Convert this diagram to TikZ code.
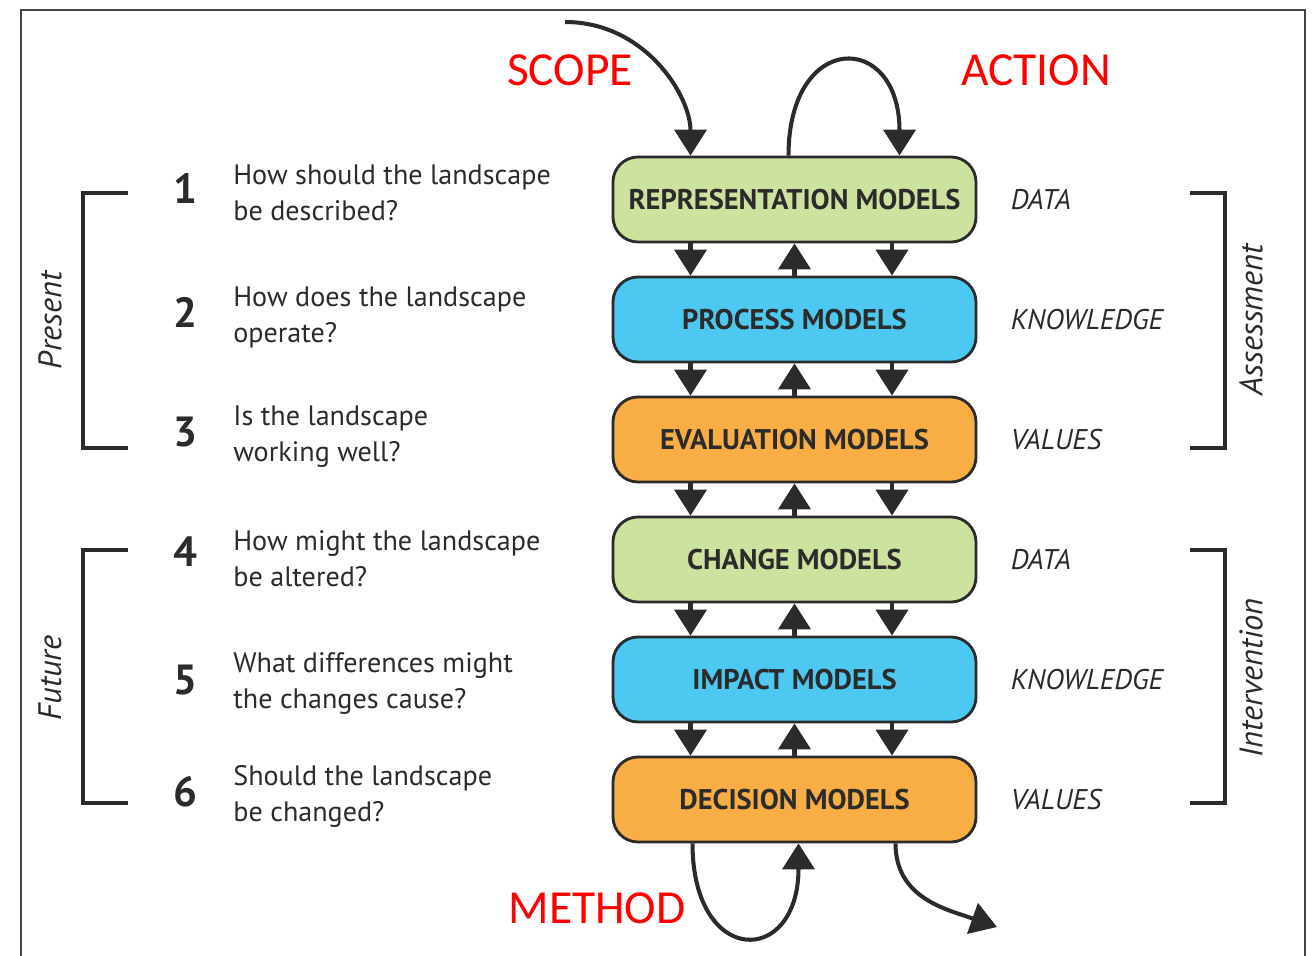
\documentclass[tikz,border=0pt]{standalone}
\usepackage{fontspec}
\setmainfont{PT Sans}
\newfontfamily\notefont{Carlito}
\usepackage{tikz}
\usetikzlibrary{arrows.meta, positioning, calc}

\definecolor{reprgreen}{HTML}{CDE29F}
\definecolor{procblue}{HTML}{4DC8F0}
\definecolor{evalorange}{HTML}{F9AE45}
\definecolor{inkgray}{HTML}{2B2B2B}
\definecolor{framegray}{HTML}{444444}

\begin{document}
\begin{tikzpicture}[
  model/.style={
    draw=inkgray, line width=1.6pt, rounded corners=0.5cm,
    minimum width=7.26cm, minimum height=1.7cm,
    font=\fontsize{16.2}{18}\selectfont\bfseries, text=inkgray
  },
  question/.style={
    anchor=west, align=left, inner sep=0pt, text=inkgray,
    font=\fontsize{16}{20.5}\selectfont
  },
  number/.style={font=\fontsize{24}{24}\selectfont\bfseries, text=inkgray},
  level/.style={inner sep=0pt, font=\fontsize{16.2}{18}\selectfont\itshape, text=inkgray},
  phase/.style={rotate=90, font=\fontsize{18.5}{20}\selectfont\itshape, text=inkgray},
  note/.style={font=\notefont\fontsize{27}{27}\selectfont, text=red},
  flow/.style={line width=2.3pt, draw=inkgray, -{Triangle[length=0.52cm, width=0.64cm]}},
  bracket/.style={line width=2.3pt, draw=inkgray}
]
\useasboundingbox (0,0) rectangle (26.3,-19.12);

% Frame, open at the bottom
\draw[framegray, line width=1.2pt] (0.42,-19.2) -- (0.42,-0.2) -- (26.1,-0.2) -- (26.1,-19.2);

% Model stack
\node[model, fill=reprgreen] (repr) at (15.89,-3.99) {REPRESENTATION MODELS};
\node[model, fill=procblue] (proc) at (15.89,-6.39) {PROCESS MODELS};
\node[model, fill=evalorange] (eval) at (15.89,-8.79) {EVALUATION MODELS};
\node[model, fill=reprgreen] (change) at (15.89,-11.19) {CHANGE MODELS};
\node[model, fill=procblue] (impact) at (15.89,-13.59) {IMPACT MODELS};
\node[model, fill=evalorange] (decision) at (15.89,-15.99) {DECISION MODELS};

% Down and up links between neighbouring models
\draw[flow] ($(repr.south)+(-2.08,0)$) -- ($(proc.north)+(-2.08,0)$);
\draw[flow] ($(proc.north)+(0,0)$) -- ($(repr.south)+(0,0)$);
\draw[flow] ($(repr.south)+(1.95,0)$) -- ($(proc.north)+(1.95,0)$);

\draw[flow] ($(proc.south)+(-2.08,0)$) -- ($(eval.north)+(-2.08,0)$);
\draw[flow] ($(eval.north)+(0,0)$) -- ($(proc.south)+(0,0)$);
\draw[flow] ($(proc.south)+(1.95,0)$) -- ($(eval.north)+(1.95,0)$);

\draw[flow] ($(eval.south)+(-2.08,0)$) -- ($(change.north)+(-2.08,0)$);
\draw[flow] ($(change.north)+(0,0)$) -- ($(eval.south)+(0,0)$);
\draw[flow] ($(eval.south)+(1.95,0)$) -- ($(change.north)+(1.95,0)$);

\draw[flow] ($(change.south)+(-2.08,0)$) -- ($(impact.north)+(-2.08,0)$);
\draw[flow] ($(impact.north)+(0,0)$) -- ($(change.south)+(0,0)$);
\draw[flow] ($(change.south)+(1.95,0)$) -- ($(impact.north)+(1.95,0)$);

\draw[flow] ($(impact.south)+(-2.08,0)$) -- ($(decision.north)+(-2.08,0)$);
\draw[flow] ($(decision.north)+(0,0)$) -- ($(impact.south)+(0,0)$);
\draw[flow] ($(impact.south)+(1.95,0)$) -- ($(decision.north)+(1.95,0)$);

% Scope, action, method and output
\coordinate (scopestart) at (11.3,-0.44);
\draw[flow] (scopestart) .. controls +(1.6,0) and +(0,1.2) .. ($(repr.north)+(-2.08,0)$);
\draw[flow] ($(repr.north)+(-0.12,0)$) .. controls +(0,2.5) and +(0,2.5) .. ($(repr.north)+(2.1,0)$);
\draw[flow] ($(decision.south)+(-2.04,0)$) .. controls +(0,-2.48) and +(0,-2.48) .. ($(decision.south)+(0.08,0)$);
\coordinate (outflow) at (19.94,-18.54);
\draw[flow] ($(decision.south)+(2.02,0)$) .. controls +(0,-1.1) and +(-1.0,0.35) .. (outflow);

\node[note] (scope) at (11.4,-1.4) {SCOPE};
\node[note] (action) at (20.72,-1.4) {ACTION};
\node[note] (method) at (11.94,-18.16) {METHOD};

% Questions
\node[number] (n1) at (3.7,-3.76) {1};
\node[question] (q1) at (4.66,-3.86) {How should the landscape\\be described?};
\node[number] (n2) at (3.7,-6.24) {2};
\node[question] (q2) at (4.66,-6.34) {How does the landscape\\operate?};
\node[number] (n3) at (3.7,-8.64) {3};
\node[question] (q3) at (4.66,-8.74) {Is the landscape\\working well?};
\node[number] (n4) at (3.7,-11.04) {4};
\node[question] (q4) at (4.66,-11.18) {How might the landscape\\be altered?};
\node[number] (n5) at (3.7,-13.6) {5};
\node[question] (q5) at (4.66,-13.68) {What differences might\\the changes cause?};
\node[number] (n6) at (3.7,-15.84) {6};
\node[question] (q6) at (4.66,-15.92) {Should the landscape\\be changed?};

% Kinds of input
\node[level, right=0.66cm of repr] (l1) {DATA};
\node[level, right=0.66cm of proc] (l2) {KNOWLEDGE};
\node[level, right=0.66cm of eval] (l3) {VALUES};
\node[level, right=0.66cm of change] (l4) {DATA};
\node[level, right=0.66cm of impact] (l5) {KNOWLEDGE};
\node[level, right=0.66cm of decision] (l6) {VALUES};

% Brackets
\draw[bracket] (2.56,-3.86) -- (1.66,-3.86) -- (1.66,-8.96) -- (2.56,-8.96);
\draw[bracket] (2.56,-11.0) -- (1.66,-11.0) -- (1.66,-16.06) -- (2.56,-16.06);
\draw[bracket] (23.8,-3.86) -- (24.5,-3.86) -- (24.5,-8.96) -- (23.8,-8.96);
\draw[bracket] (23.8,-11.0) -- (24.5,-11.0) -- (24.5,-16.06) -- (23.8,-16.06);

\node[phase] (present) at (1.0,-6.4) {Present};
\node[phase] (future) at (1.0,-13.56) {Future};
\node[phase] (assess) at (25.02,-6.4) {Assessment};
\node[phase] (interv) at (25.02,-13.56) {Intervention};

\end{tikzpicture}
\end{document}
